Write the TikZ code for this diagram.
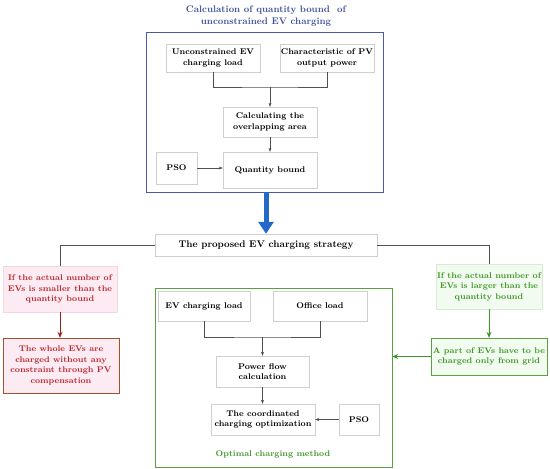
\documentclass[tikz,border=0pt]{standalone}
\usepackage{tikz}
\usetikzlibrary{arrows.meta}

\definecolor{frameblue}{HTML}{4A5AA8}
\definecolor{titleblue}{HTML}{3C4E9A}
\definecolor{bigblue}{HTML}{2468C8}
\definecolor{boxgray}{HTML}{CFCFCF}
\definecolor{linegray}{HTML}{505050}
\definecolor{darkred}{HTML}{B8262A}
\definecolor{pinkfill}{HTML}{FDEBF3}
\definecolor{pinkline}{HTML}{F2D6E0}
\definecolor{brownline}{HTML}{A0522D}
\definecolor{arrowred}{HTML}{A02018}
\definecolor{darkgreen}{HTML}{3E9626}
\definecolor{greenfill}{HTML}{F1FBEF}
\definecolor{greenline}{HTML}{D8ECD2}
\definecolor{frameg}{HTML}{5AA040}

\begin{document}
\begin{tikzpicture}[x=1pt,y=-1pt,
  every node/.style={font=\bfseries\fontsize{8.3}{10.5}\selectfont, align=center, inner sep=1pt},
  blk/.style={draw=boxgray, fill=white, minimum width=#1},
  conn/.style={draw=linegray, thin},
  arr/.style={conn, -{Stealth[length=4pt,width=3pt]}}]

\useasboundingbox (0,0) rectangle (550,469);

% Upper frame: quantity bound
\node[draw=frameblue, minimum width=237pt, minimum height=160pt] (bframe) at (264.5,112) {};
\node[text=titleblue, font=\bfseries\fontsize{9.5}{12.5}\selectfont] (title) at (266,16)
  {Calculation of quantity bound \ of\\unconstrained EV charging};

\node[blk=94pt, minimum height=28pt] (uncload) at (213,58) {Unconstrained EV\\charging load};
\node[blk=94pt, minimum height=28pt] (pvchar) at (327,58) {Characteristic of PV\\output power};
\node[blk=94pt, minimum height=30pt] (overlap) at (270,122) {Calculating the\\overlapping area};
\node[blk=94pt, minimum height=36pt] (qbound) at (270,170) {Quantity bound};
\node[blk=41pt, minimum height=32pt] (psoa) at (176.5,168) {PSO};
\coordinate (joina) at (270,87);

\draw[conn] (uncload.south) |- (joina) -| (pvchar.south);
\draw[arr] (joina) -- (overlap.north);
\draw[arr] (overlap.south) -- (qbound.north);
\draw[arr] (psoa.east) -- (psoa.east -| qbound.west);

% Strategy
\node[blk=222pt, minimum height=22pt, font=\bfseries\fontsize{9.7}{11}\selectfont] (strategy) at (266,245)
  {The proposed EV charging strategy};
\draw[bigblue, line width=5pt, -{Triangle[length=12pt,width=15pt]}]
  (strategy.north |- bframe.south) -- (strategy.north);

% Left branch
\node[draw=pinkline, fill=pinkfill, text=darkred, minimum width=114pt, minimum height=46pt] (smaller) at (60,289)
  {If the actual number of\\EVs is smaller than the\\quantity bound};
\node[draw=brownline, fill=pinkfill, text=darkred, minimum width=116pt, minimum height=55pt] (whole) at (61,365.5)
  {The whole EVs are\\charged without any\\constraint through PV\\compensation};
\draw[conn] (strategy.west) -| (smaller.north);
\draw[arrowred, thick, -{Stealth[length=6pt,width=5pt]}] (smaller.south) -- (smaller.south |- whole.north);

% Right branch
\node[draw=greenline, fill=greenfill, text=darkgreen, minimum width=104pt, minimum height=45pt] (larger) at (489,286.5)
  {If the actual number of\\EVs is larger than the\\quantity bound};
\node[draw=frameg, fill=greenfill, text=darkgreen, minimum width=116pt, minimum height=37pt] (part) at (489,356.5)
  {A part of EVs have to be\\charged only from grid};
\draw[conn] (strategy.east) -| (larger.north);
\draw[darkgreen, thick, -{Stealth[length=6pt,width=5pt]}] (larger.south) -- (part.north);

% Lower frame: optimal charging
\node[draw=frameg, minimum width=237pt, minimum height=179pt] (gframe) at (273.5,377.5) {};
\node[text=darkgreen] (method) at (273,454) {Optimal charging method};
\draw[darkgreen, thick, -{Stealth[length=6pt,width=5pt]}] (part.west) -- (part.west -| gframe.east);

\node[blk=92pt, minimum height=30pt] (evload) at (204,306) {EV charging load};
\node[blk=94pt, minimum height=30pt] (office) at (320,306) {Office load};
\node[blk=93pt, minimum height=31pt] (flow) at (262.5,371.5) {Power flow\\calculation};
\node[blk=104pt, minimum height=31pt] (coord) at (263,419.5) {The coordinated\\charging optimization};
\node[blk=40pt, minimum height=31pt] (psob) at (359,419.5) {PSO};
\coordinate (joinb) at (262.5,337);

\draw[conn] (evload.south) |- (joinb) -| (office.south);
\draw[arr] (joinb) -- (flow.north);
\draw[arr] (flow.south) -- (flow.south |- coord.north);
\draw[arr] (psob.west) -- (coord.east);

\end{tikzpicture}
\end{document}
